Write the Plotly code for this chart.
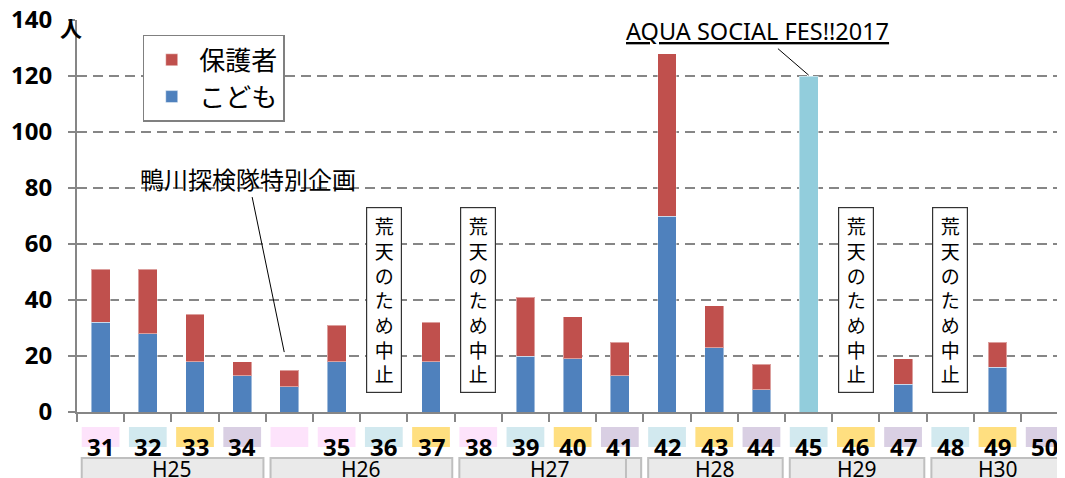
import plotly.graph_objects as go

# categories (one per column on the chart, left to right)
categories = ["31", "32", "33", "34", "特別企画", "35", "36", "37", "38", "39", "40",
              "41", "42", "43", "44", "45", "46", "47", "48", "49", "50"]
number_labels = ["31", "32", "33", "34", "", "35", "36", "37", "38", "39", "40",
                 "41", "42", "43", "44", "45", "46", "47", "48", "49", "50"]
children = [32, 28, 18, 13, 9, 18, None, 18, None, 20, 19,
            13, 70, 23, 8, None, None, 10, None, 16, None]
guardians = [19, 23, 17, 5, 6, 13, None, 14, None, 21, 15,
             12, 58, 15, 9, None, None, 9, None, 9, None]
fes_total = [None] * 15 + [120] + [None] * 5
label_colors = ["#FDE3FB", "#D2E9EF", "#FFDF80", "#D9CFE3", "#FDE3FB", "#FDE3FB", "#D2E9EF",
                "#FFDF80", "#FDE3FB", "#D2E9EF", "#FFDF80", "#D9CFE3", "#D2E9EF", "#FFDF80",
                "#D9CFE3", "#D2E9EF", "#FFDF80", "#D9CFE3", "#D2E9EF", "#FFDF80", "#D9CFE3"]
years = ["H25", "H26", "H27", "H28", "H29", "H30"]
year_spans = [(0, 3), (4, 7), (8, 11), (12, 14), (15, 17), (18, 20)]
cancelled = [6, 8, 16, 18]

JP = "Noto Sans CJK JP"
GRID = "#868686"

fig = go.Figure()
fig.add_trace(go.Bar(x=categories, y=children, name="こども", marker_color="#4F81BD",
                     marker_line=dict(color="rgba(255,255,255,0.45)", width=1), width=0.4))
fig.add_trace(go.Bar(x=categories, y=guardians, name="保護者", marker_color="#C0504D",
                     marker_line=dict(color="rgba(255,255,255,0.45)", width=1), width=0.4))
fig.add_trace(go.Bar(x=categories, y=fes_total, showlegend=False, marker_color="#92CDDC",
                     marker_line=dict(color="rgba(255,255,255,0.45)", width=1), width=0.4))

shapes = []
annotations = []

# numbered, coloured labels under each column
for i, (lab, col) in enumerate(zip(number_labels, label_colors)):
    shapes.append(dict(type="rect", xref="x", yref="paper", x0=i - 0.4, x1=i + 0.4,
                       y0=-0.0893, y1=-0.0383, fillcolor=col, line_width=0, layer="above"))
    if lab:
        annotations.append(dict(x=i, y=-0.087, xref="x", yref="paper", text=lab, showarrow=False,
                                xanchor="center", yanchor="middle",
                                font=dict(family="Noto Sans", size=24, color="black", weight="bold")))

# year group boxes
for yr, (a, b) in zip(years, year_spans):
    shapes.append(dict(type="rect", xref="x", yref="paper", x0=a - 0.4, x1=b + 0.45,
                       y0=-0.2, y1=-0.1173, fillcolor="#EAEAEA", line=dict(color="#BFBFBF", width=2)))
    annotations.append(dict(x=(a + b) / 2 + 0.02, y=-0.146, xref="x", yref="paper", text=yr,
                            showarrow=False, xanchor="center", yanchor="middle",
                            font=dict(family="Noto Sans", size=21, color="black")))
shapes.append(dict(type="rect", xref="x", yref="paper", x0=11.13, x1=11.45,
                   y0=-0.2, y1=-0.1173, fillcolor="#EAEAEA", line=dict(color="#BFBFBF", width=2)))

# cancelled notices
for i in cancelled:
    annotations.append(dict(x=i, y=40, xref="x", yref="y", text="<br>".join("荒天のため中止"),
                            showarrow=False, font=dict(family=JP, size=19, color="black"),
                            bgcolor="white", bordercolor="#333333", borderwidth=1.2, borderpad=4,
                            width=26))

annotations.append(dict(x=3.89, y=21.4, xref="x", yref="y", text="鴨川探検隊特別企画",
                        showarrow=True, arrowhead=0, arrowwidth=1, arrowcolor="black",
                        ax=-36, ay=-174, standoff=0,
                        font=dict(family=JP, size=24, color="black")))
annotations.append(dict(x=15, y=120.3, xref="x", yref="y", text="<u>AQUA SOCIAL FES!!2017</u>",
                        showarrow=True, arrowhead=0, arrowwidth=1, arrowcolor="black",
                        ax=-51, ay=-44, standoff=0,
                        font=dict(family="Noto Sans", size=23.5, color="black")))
annotations.append(dict(x=-0.006, y=0.982, xref="paper", yref="paper", text="人", showarrow=False,
                        xanchor="center", yanchor="middle",
                        font=dict(family=JP, size=22, color="black", weight="bold")))

fig.update_layout(
    width=1065, height=478,
    # the page body adds an 8px offset, so margins are trimmed by 8px
    margin=dict(l=69, r=0, t=12, b=74),
    barmode="stack",
    plot_bgcolor="white", paper_bgcolor="white",
    showlegend=True,
    legend=dict(x=0.066, y=0.962, xanchor="left", yanchor="top", traceorder="reversed",
                bgcolor="white", bordercolor="#808080", borderwidth=1.5, itemwidth=45,
                font=dict(family=JP, size=26, color="black")),
    shapes=shapes,
    annotations=annotations,
    xaxis=dict(type="category", range=[-0.5, 20.6], showticklabels=False, ticks="outside",
               tickson="boundaries", ticklen=8, tickcolor=GRID, tickwidth=2, automargin=False,
               showline=True, linecolor=GRID, linewidth=2, showgrid=False),
    yaxis=dict(range=[0, 140], dtick=20, ticks="outside", ticklen=7, tickcolor=GRID, tickwidth=2,
               showline=True, linecolor=GRID, linewidth=2, automargin=False,
               gridcolor=GRID, gridwidth=2, griddash="10px,6px", zeroline=False,
               tickfont=dict(family="Noto Sans", size=24, color="black", weight="bold"),
               ticklabelstandoff=11, ticklabeloverflow="allow"),
)

fig.write_html("out.html")
